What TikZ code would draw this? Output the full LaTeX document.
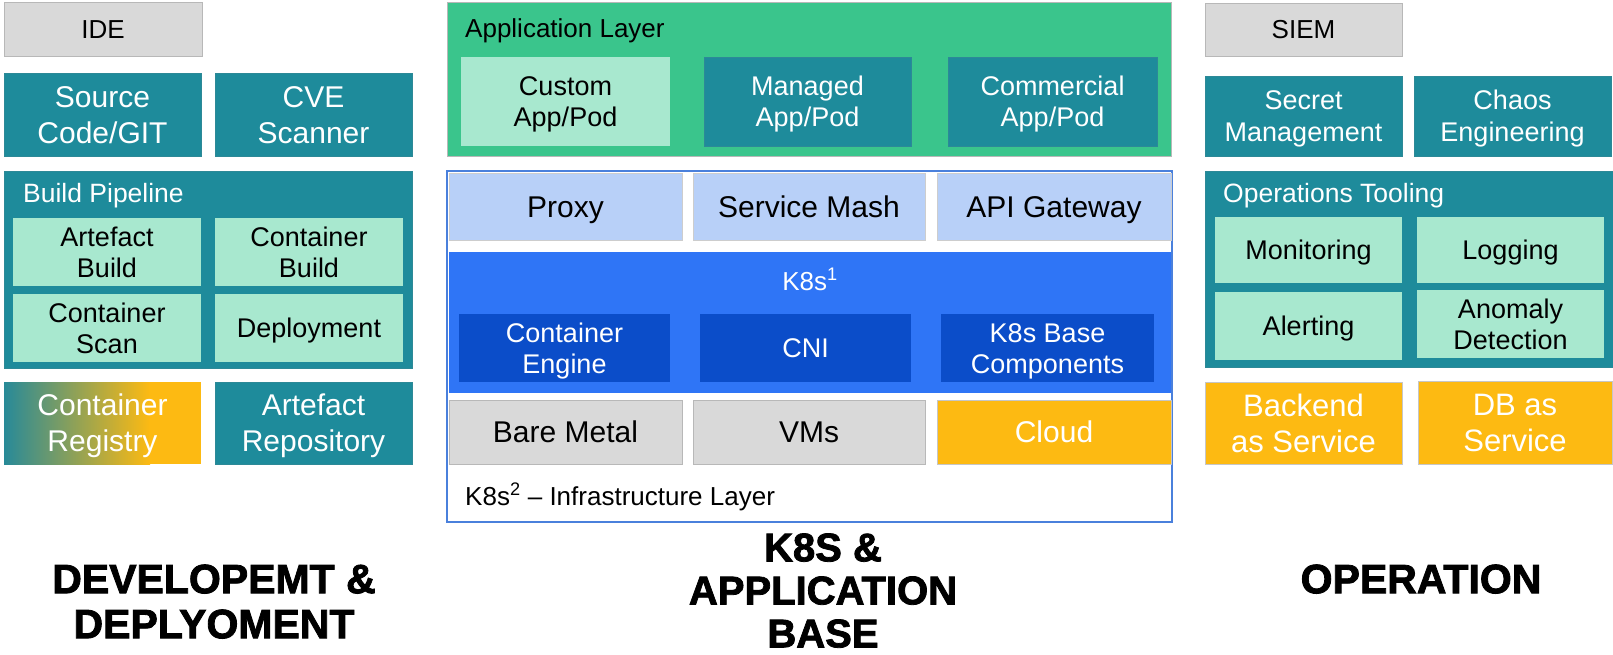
\documentclass[tikz,border=0pt]{standalone}
\usepackage{fontspec}
\setmainfont{Liberation Sans}
\newfontfamily\headfont{Liberation Sans}[BoldFeatures={FakeBold=2}]
\definecolor{cteal}{HTML}{1E8B9B}
\definecolor{cmint}{HTML}{A8E8CF}
\definecolor{cgreen}{HTML}{3AC58C}
\definecolor{cgray}{HTML}{D9D9D9}
\definecolor{clblue}{HTML}{B8D0F8}
\definecolor{cblue}{HTML}{2F75F6}
\definecolor{cdblue}{HTML}{0B4DC9}
\definecolor{corange}{HTML}{FDBA12}
\definecolor{cborder}{HTML}{4A80DC}
\definecolor{cedge}{HTML}{B8B8B8}
\newcommand\Bx[7]{\node[#2,minimum width={#5-#3},minimum height={#6-#4}] (#1) at ({(#3+#5)/2},{(#4+#6)/2}) {#7};}
\tikzset{
  box/.style={rectangle, inner sep=0pt, outer sep=0pt, align=center, line width=0.8pt},
  tealbox/.style={box, fill=cteal, draw=cteal!85!gray, text=white},
  mintbox/.style={box, fill=cmint, text=black},
  graybox/.style={box, fill=cgray, draw=cedge, text=black},
  lbluebox/.style={box, fill=clblue, draw=cedge!70, text=black},
  dbluebox/.style={box, fill=cdblue, text=white},
  orangebox/.style={box, fill=corange, draw=cedge!80, text=white},
  % single-line / two-line text, vertically centred on the capitals
  fbig/.style={font=\fontsize{30}{36}\selectfont, text height=21.5pt, text depth=0pt},
  fbigII/.style={font=\fontsize{30}{36}\selectfont, text height=57.5pt, text depth=0pt},
  fmid/.style={font=\fontsize{27}{31}\selectfont, text height=19.3pt, text depth=0pt},
  fmidII/.style={font=\fontsize{27}{31}\selectfont, text height=50.3pt, text depth=0pt},
  fsecII/.style={font=\fontsize{27}{32}\selectfont, text height=51.3pt, text depth=0pt},
  fsml/.style={font=\fontsize{26}{30}\selectfont, text height=18.6pt, text depth=0pt},
  fsvcII/.style={font=\fontsize{31}{36}\selectfont, text height=58.2pt, text depth=0pt},
  fhead/.style={align=center, inner sep=0pt, text depth=0pt},
}
\begin{document}
\begin{tikzpicture}[x=1pt,y=-1pt]
\useasboundingbox[fill=white] (0,0) rectangle (1613,655);
% ---------- left column ----------
\Bx{ide}{graybox,fsml}{4}{2}{202}{56}{IDE}
\Bx{src}{tealbox,fbigII}{4}{73}{201}{156}{Source\\Code/GIT}
\Bx{cve}{tealbox,fbigII}{215}{73}{412}{156}{CVE\\Scanner}
\Bx{build}{tealbox}{4}{171}{412}{368}{}
\node[anchor=base west, inner sep=0pt, text=white, font=\fontsize{26.5}{30}\selectfont] (buildlbl) at (23,202) {Build Pipeline};
\Bx{ab}{mintbox,fmidII}{13}{218}{201}{286}{Artefact\\Build}
\Bx{cb}{mintbox,fmidII}{215}{218}{403}{286}{Container\\Build}
\Bx{cs}{mintbox,fmidII}{13}{294}{201}{362}{Container\\Scan}
\Bx{dep}{mintbox,fmid}{215}{294}{403}{362}{Deployment}
\shade[left color=cteal!90!gray, right color=corange] (4,382) rectangle (150,464);
\fill[corange] (150,382) rectangle (201,464);
\Bx{creg}{box,text=white,fbigII}{4}{382}{201}{464}{Container\\Registry}
\Bx{arep}{tealbox,fbigII}{215}{382}{412}{464}{Artefact\\Repository}
% ---------- centre column ----------
\Bx{app}{box,fill=cgreen,draw=cedge}{447}{2}{1171}{156}{}
\node[anchor=base west, inner sep=0pt, font=\fontsize{26}{30}\selectfont] (applbl) at (465,38) {Application Layer};
\Bx{custom}{mintbox,fmidII}{461}{57}{670}{146}{Custom\\App/Pod}
\Bx{managed}{tealbox,fmidII}{704}{57}{911}{146}{Managed\\App/Pod}
\Bx{commercial}{tealbox,fmidII}{948}{57}{1157}{146}{Commercial\\App/Pod}
\Bx{k8s}{box,fill=white,draw=cborder,line width=2pt}{447}{171}{1172}{522}{}
\Bx{proxy}{lbluebox,fbig}{449}{173}{682}{240}{Proxy}
\Bx{mesh}{lbluebox,fbig}{693}{173}{925}{240}{Service Mash}
\Bx{api}{lbluebox,fbig}{937}{173}{1171}{240}{API Gateway}
\Bx{band}{box,fill=cblue}{449}{252}{1171}{393}{}
\node[anchor=base, inner sep=0pt, text=white, font=\fontsize{26}{30}\selectfont] (k8slbl) at (810,290) {K8s\textsuperscript{1}};
\Bx{engine}{dbluebox,fmidII}{459}{314}{670}{382}{Container\\Engine}
\Bx{cni}{dbluebox,fmid}{700}{314}{911}{382}{CNI}
\Bx{basec}{dbluebox,fmidII}{941}{314}{1154}{382}{K8s Base\\Components}
\Bx{bm}{graybox,fbig}{449}{400}{682}{464}{Bare Metal}
\Bx{vms}{graybox,fbig}{693}{400}{925}{464}{VMs}
\Bx{cloud}{orangebox,fbig}{937}{400}{1171}{464}{Cloud}
\node[anchor=base west, inner sep=0pt, font=\fontsize{26}{30}\selectfont] (infralbl) at (465,505) {K8s\textsuperscript{2} – Infrastructure Layer};
% ---------- right column ----------
\Bx{siem}{graybox,fsml}{1205}{3}{1402}{56}{SIEM}
\Bx{secret}{tealbox,fsecII}{1205}{76}{1402}{156}{Secret\\Management}
\Bx{chaos}{tealbox,fsecII}{1414}{76}{1611}{156}{Chaos\\Engineering}
\Bx{ops}{tealbox}{1205}{171}{1613}{367}{}
\node[anchor=base west, inner sep=0pt, text=white, font=\fontsize{26.5}{30}\selectfont] (opslbl) at (1223,203) {Operations Tooling};
\Bx{mon}{mintbox,fmid}{1215}{217}{1402}{283}{Monitoring}
\Bx{logg}{mintbox,fmid}{1417}{217}{1604}{283}{Logging}
\Bx{alert}{mintbox,fmid}{1215}{292}{1402}{360}{Alerting}
\Bx{anom}{mintbox,fmidII}{1417}{290}{1604}{358}{Anomaly\\Detection}
\Bx{baas}{orangebox,fsvcII}{1205}{382}{1402}{464}{Backend\\as Service}
\Bx{dbaas}{orangebox,fsvcII}{1418}{381}{1612}{464}{DB as\\Service}
% ---------- headings ----------
\node[fhead, font=\headfont\bfseries\fontsize{41}{45}\selectfont, text height=74.4pt] (hdev) at (214,601) {DEVELOPEMT \&\\DEPLYOMENT};
\node[fhead, font=\headfont\bfseries\fontsize{40}{43}\selectfont, text height=114.7pt] (hk8s) at (823,590) {K8S \&\\APPLICATION\\BASE};
\node[fhead, font=\headfont\bfseries\fontsize{41}{45}\selectfont, text height=29.4pt] (hops) at (1421,578.5) {OPERATION};
\end{tikzpicture}
\end{document}
